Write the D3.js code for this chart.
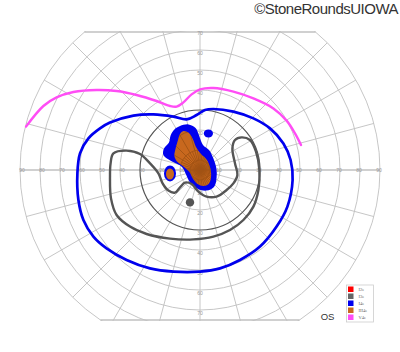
<!DOCTYPE html>
<html>
<head>
<meta charset="utf-8">
<script src="https://cdn.jsdelivr.net/npm/d3@7"></script>
<style>
  body { margin: 0; background: #fff; }
  svg { display: block; }
</style>
</head>
<body>
<script>
// Goldmann field, left eye - points are [x deg, y deg] (right / up positive)
var ringDegs = [10, 20, 30, 40, 50, 60, 70, 80, 90];
var hLabels = [10, 20, 30, 40, 50, 60, 70, 80, 90];
var vLabels = [10, 20, 30, 40, 50, 60, 70];
var meridians = d3.range(0, 360, 15);

var legendNames = ["I2e", "I3e", "I4e", "III4e", "V4e"];
var legendColors = ["#ff0000", "#666666", "#0000ee", "#c8691f", "#ff4df5"];

var v4e = [[-87,21.7],[-78.3,32],[-71.7,36.3],[-63.3,39],[-51.7,40],[-41.7,39.5],[-31.7,37.5],
  [-21.7,34.5],[-15,32],[-11.7,31.7],[-8.3,33.8],[-4.2,37.8],[0,40.3],[6.7,41],[16.7,39.2],
  [26.7,35.8],[36.7,30.8],[43.3,24.7],[47.5,18.3],[50.5,12.5]];

var i4e = [[-50,20.8],[-45,23.7],[-33.3,27.2],[-23.3,27.8],[-13.3,26.7],[-6.7,25.3],[-1.7,27.5],
  [2.5,30],[6.7,30.5],[16.7,29.2],[26.7,25.8],[35,20.8],[41.7,13.3],[45.3,5],[46.3,-5],
  [43.7,-18.3],[38.3,-28.3],[30,-38.3],[20,-45],[10,-49.2],[0,-50.8],[-13.3,-50.8],[-25,-49.2],
  [-36.7,-45],[-46.7,-39.2],[-53.3,-33.3],[-58.3,-25],[-60.8,-15],[-61.3,-1.7],[-60,8.3],[-55.8,15.8]];

var i3e = [[-43.3,8.3],[-36.7,9.7],[-30,8],[-25,3.3],[-20.8,-1.7],[-18.7,-6.7],[-15.8,-10.3],
  [-12.5,-11.3],[-10,-8.7],[-7.5,-6.3],[-4.2,-7],[-0.8,-10.8],[3.3,-13.3],[8.3,-13.3],[13.3,-10],
  [16.7,-6.7],[18.7,-2.5],[17.5,3.3],[16.2,10.8],[17.5,15],[20.8,16.3],[25,15],[28,9.2],[29.7,0],
  [29.2,-10],[26.7,-18.3],[21.7,-25],[15,-30],[6.7,-33.3],[-3.3,-34.7],[-15,-34.3],[-26.7,-32],
  [-35,-28.3],[-41.7,-22.5],[-44.5,-14.2],[-45,-3.3],[-44.7,3.3]];

var i4eCentral = [[-10,22],[-5.8,22.8],[-2.2,21],[-0.3,16.7],[1.5,12.5],[4.5,10],[6.7,5.8],
  [8.2,0.8],[8.3,-3.7],[7,-8.5],[3.3,-10.3],[-1,-9.5],[-5,-6.2],[-7,-2.2],[-9,1.5],
  [-14,4.2],[-18.3,7.5],[-18,10.8],[-15.5,13.8],[-14.7,17.3],[-12.8,20.3]];

var iii4e = [[-8.3,19.5],[-5.8,18.7],[-3.6,15.5],[-2,11.5],[0.5,8],[3.3,5.3],[5.2,0.8],
  [5.5,-3.7],[4.3,-7],[1.7,-8],[-1.2,-7],[-3.6,-4.2],[-5.3,-1],[-8.3,1.8],[-11.5,4.3],
  [-12.8,7],[-12.2,10.8],[-11,15],[-10,18]];

// small islands: [x, y, rx, ry]
var i4eIslands = [[4.2,18.3,2.3,2.0],[-15,-1.7,3.0,4.0]];
var iii4eIslands = [[-15,-2,2.0,2.8]];
var i3eSpots = [[-5,-16.2,2.1]];

var W = 400, H = 352;
var cx = 200, cy = 170;
var r = d3.scaleLinear().domain([0, 90]).range([0, 180]);
var x = d3.scaleLinear().domain([-90, 90]).range([cx - 180, cx + 180]);
var y = d3.scaleLinear().domain([-90, 90]).range([cy + 180, cy - 180]);
var topY = 32, botY = 320;

var svg = d3.select("body").append("svg")
  .attr("width", W)
  .attr("height", H);

var defs = svg.append("defs");
defs.append("clipPath").attr("id", "field")
  .append("rect").attr("x", 0).attr("y", topY - 1).attr("width", W).attr("height", botY - topY + 2);
defs.append("clipPath").attr("id", "circ")
  .append("circle").attr("cx", cx).attr("cy", cy).attr("r", r(90) + 1);

var closedLine = d3.line().x(function(d){ return x(d[0]); }).y(function(d){ return y(d[1]); })
  .curve(d3.curveCatmullRomClosed.alpha(0.5));
var openLine = d3.line().x(function(d){ return x(d[0]); }).y(function(d){ return y(d[1]); })
  .curve(d3.curveCatmullRom.alpha(0.5));

defs.append("clipPath").attr("id", "blob")
  .append("path").attr("d", closedLine(iii4e));

function drawGrid(g, col) {
  g.selectAll("line.mer").data(meridians).enter().append("line")
    .attr("x1", cx).attr("y1", cy)
    .attr("x2", function(a){ return cx + r(90) * Math.cos(a * Math.PI / 180); })
    .attr("y2", function(a){ return cy - r(90) * Math.sin(a * Math.PI / 180); })
    .attr("stroke", col).attr("stroke-width", function(a){ return a % 180 == 0 ? 1.4 : 0.9; });
  g.selectAll("circle.ring").data(ringDegs).enter().append("circle")
    .attr("cx", cx).attr("cy", cy).attr("r", function(d){ return r(d); })
    .attr("fill", "none")
    .attr("stroke", function(d){ return d == 30 ? "#555" : col; })
    .attr("stroke-width", function(d){ return d == 30 ? 1.2 : 0.9; });
}

var grid = svg.append("g").attr("clip-path", "url(#field)")
  .append("g").attr("clip-path", "url(#circ)");
drawGrid(grid, "#c0c0c0");
[topY, botY].forEach(function(yy){
  var half = Math.sqrt(r(90) * r(90) - (yy - cy) * (yy - cy));
  grid.append("line").attr("x1", cx - half).attr("x2", cx + half)
    .attr("y1", yy).attr("y2", yy)
    .attr("stroke", "#c0c0c0").attr("stroke-width", 1.3);
});

// ring labels
var lab = svg.append("g").attr("font-family", "Liberation Sans, Arial, sans-serif")
  .attr("font-size", 5).attr("fill", "#999").attr("text-anchor", "middle");
hLabels.forEach(function(d){
  lab.append("text").attr("x", x(-d) + 2).attr("y", y(0) + 1.8).text(d);
  lab.append("text").attr("x", x(d) - 1).attr("y", y(0) + 1.8).text(d);
});
vLabels.forEach(function(d){
  lab.append("text").attr("x", x(0)).attr("y", y(d) + 4.5).text(d);
  lab.append("text").attr("x", x(0)).attr("y", y(-d) + 4.5).text(d);
});

// fills
svg.append("path").attr("d", closedLine(i4eCentral)).attr("fill", legendColors[2]);
i4eIslands.forEach(function(e){
  svg.append("ellipse").attr("cx", x(e[0])).attr("cy", y(e[1]))
    .attr("rx", r(e[2])).attr("ry", r(e[3])).attr("fill", legendColors[2]);
});
svg.append("path").attr("d", closedLine(iii4e)).attr("fill", legendColors[3]);
iii4eIslands.forEach(function(e){
  svg.append("ellipse").attr("cx", x(e[0])).attr("cy", y(e[1]))
    .attr("rx", r(e[2])).attr("ry", r(e[3])).attr("fill", legendColors[3]);
});
i3eSpots.forEach(function(e){
  svg.append("circle").attr("cx", x(e[0])).attr("cy", y(e[1])).attr("r", r(e[2]))
    .attr("fill", "#555");
});

// grid showing through the orange
var inner = svg.append("g").attr("clip-path", "url(#blob)").attr("opacity", 0.35);
drawGrid(inner, "#5a2a00");
inner.selectAll("line.fine").data(d3.range(7.5, 360, 15)).enter().append("line")
  .attr("x1", cx).attr("y1", cy)
  .attr("x2", function(a){ return cx + r(10) * Math.cos(a * Math.PI / 180); })
  .attr("y2", function(a){ return cy - r(10) * Math.sin(a * Math.PI / 180); })
  .attr("stroke", "#5a2a00").attr("stroke-width", 0.9);
inner.append("circle").attr("cx", cx).attr("cy", cy).attr("r", r(5))
  .attr("fill", "none").attr("stroke", "#5a2a00").attr("stroke-width", 0.9);

// isopter lines
svg.append("path").attr("d", closedLine(i3e)).attr("fill", "none")
  .attr("stroke", "#555").attr("stroke-width", 2.4);
svg.append("path").attr("d", closedLine(i4e)).attr("fill", "none")
  .attr("stroke", legendColors[2]).attr("stroke-width", 2.7);
svg.append("path").attr("d", openLine(v4e)).attr("fill", "none")
  .attr("stroke", legendColors[4]).attr("stroke-width", 2.4).attr("stroke-linecap", "round");

// legend
var leg = svg.append("g").attr("transform", "translate(346.5,285)");
leg.append("rect").attr("x", 0).attr("y", 0).attr("width", 27).attr("height", 37)
  .attr("fill", "#fff").attr("stroke", "#ccc").attr("stroke-width", 0.8);
legendNames.forEach(function(n, i){
  leg.append("rect").attr("x", 1.5).attr("y", 1.5 + i * 7).attr("width", 5.5).attr("height", 5.5)
    .attr("fill", legendColors[i]);
  leg.append("text").attr("x", 12).attr("y", 6 + i * 7)
    .attr("font-family", "Liberation Serif, serif").attr("font-size", 4.5).attr("fill", "#666")
    .text(n);
});

svg.append("text").attr("x", 327.5).attr("y", 320)
  .attr("text-anchor", "middle").attr("font-family", "Liberation Sans, Arial, sans-serif")
  .attr("font-size", 9.5).attr("fill", "#333").text("OS");

svg.append("text").attr("x", 398).attr("y", 14)
  .attr("text-anchor", "end").attr("font-family", "Liberation Sans, Arial, sans-serif")
  .attr("font-size", 15).attr("fill", "#333").attr("letter-spacing", -0.5)
  .text("\u00A9StoneRoundsUIOWA");
</script>
</body>
</html>
